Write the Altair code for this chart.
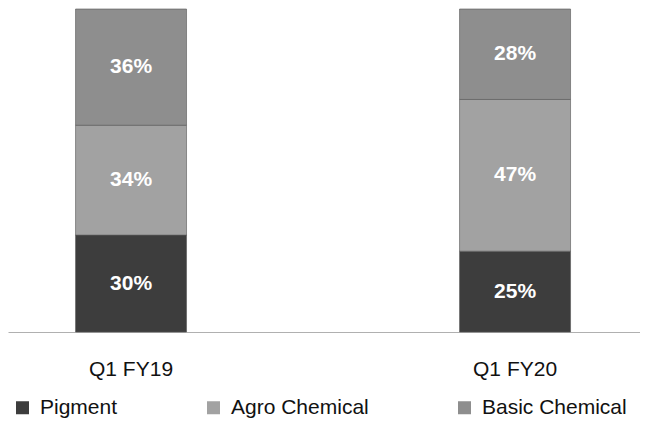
import altair as alt
import pandas as pd

quarters = ["Q1 FY19", "Q1 FY20"]
segments = ["Pigment", "Agro Chemical", "Basic Chemical"]
pigment = [30, 25]
agro = [34, 47]
basic = [36, 28]
colors = ["#3d3d3d", "#a2a2a2", "#8e8e8e"]

rows = []
for i, q in enumerate(quarters):
    vals = [pigment[i], agro[i], basic[i]]
    base = 0
    for j, s in enumerate(segments):
        rows.append({"quarter": q, "segment": s, "order": j, "value": vals[j],
                     "y0": base, "y1": base + vals[j], "mid": base + vals[j] / 2,
                     "label": f"{vals[j]}%"})
        base += vals[j]
df = pd.DataFrame(rows)

FONT = "Liberation Sans"

x = alt.X("quarter:N", sort=quarters, title=None,
          scale=alt.Scale(paddingInner=0.711, paddingOuter=0.1784, align=0.493),
          axis=alt.Axis(labelAngle=0, ticks=False, domainColor="#b0b0b0", domainWidth=1,
                        labelFont=FONT, labelFontSize=21, labelColor="#111",
                        labelPadding=26, grid=False))

bars = alt.Chart(df).mark_bar(stroke="#555", strokeWidth=0.6).encode(
    x=x,
    y=alt.Y("y0:Q", scale=alt.Scale(domain=[0, 100]), axis=None),
    y2="y1:Q",
    color=alt.Color("segment:N", sort=segments,
                    scale=alt.Scale(domain=segments, range=colors),
                    legend=alt.Legend(title=None, orient="none", direction="horizontal",
                                      legendX=4, legendY=388, padding=0,
                                      symbolType="square", symbolSize=169,
                                      symbolStrokeWidth=0, labelOffset=7,
                                      labelFont=FONT, labelFontSize=21, labelColor="#111",
                                      columnPadding=85, labelLimit=220)),
    order="order:Q",
)

texts = alt.Chart(df).mark_text(color="white", fontWeight="bold", font=FONT,
                                fontSize=21).encode(
    x=alt.X("quarter:N", sort=quarters),
    y="mid:Q",
    text="label:N",
)

chart = (bars + texts).properties(
    width=632, height=323,
    background="white",
    autosize=alt.AutoSizeParams(type="none"),
    padding={"left": 0, "top": 1, "right": 0, "bottom": 90},
).configure_view(stroke=None)

chart.save("out.html", embed_options={"renderer": "svg", "actions": False})
